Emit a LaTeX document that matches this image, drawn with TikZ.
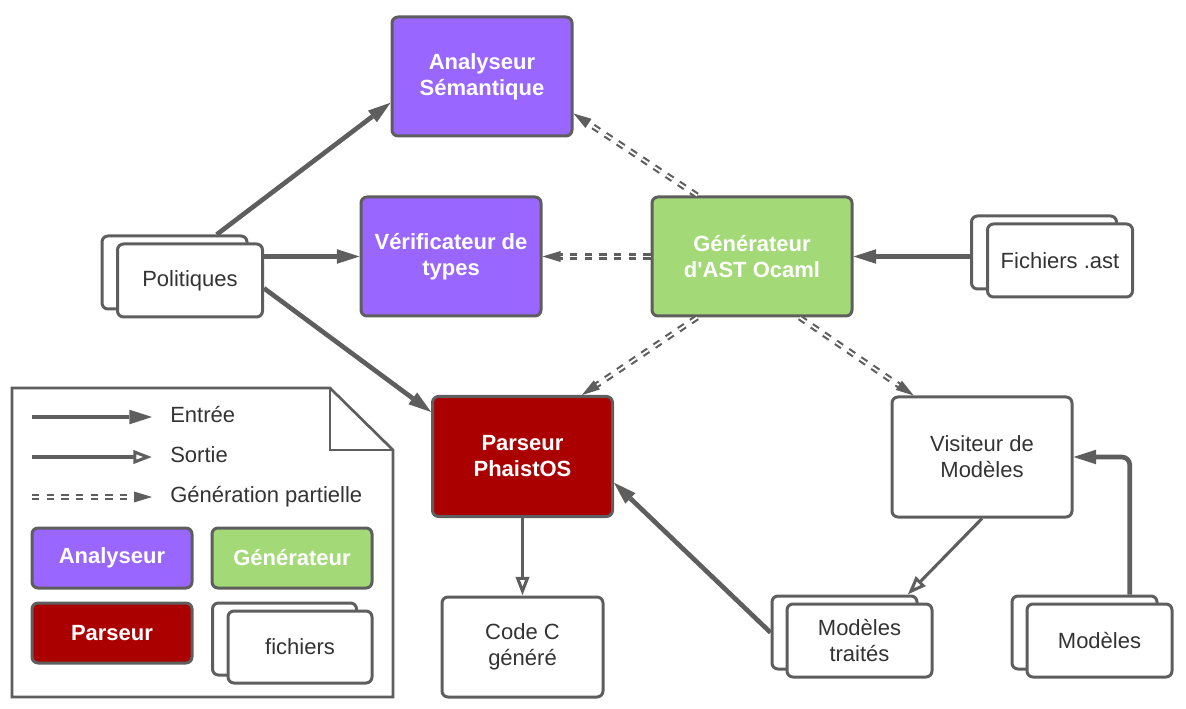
\documentclass[tikz,border=0pt]{standalone}
\usepackage{fontspec}
\setmainfont{Liberation Sans}
\usetikzlibrary{arrows.meta}
\definecolor{lineg}{HTML}{5E5E5E}
\definecolor{purp}{HTML}{9966FF}
\definecolor{grn}{HTML}{A3D977}
\definecolor{dred}{HTML}{AA0000}
\definecolor{txt}{HTML}{333333}
\newcommand\dfont{\fontsize{16.5}{19.5}\selectfont}
\begin{document}
\begin{tikzpicture}[x=0.75pt,y=-0.75pt,
 box/.style={draw=lineg, line width=2.25pt, rounded corners=4.5pt, align=center, inner sep=0pt, text=txt, font=\dfont, fill=white},
 abox/.style={box, fill=purp, text=white, font=\dfont\bfseries},
 gbox/.style={box, fill=grn, text=white, font=\dfont\bfseries},
 pbox/.style={box, fill=dred, text=white, font=\dfont\bfseries},
 big/.style={minimum width=135pt, minimum height=89.25pt},
 filebox/.style={box, minimum width=108.75pt, minimum height=54.75pt},
 legbox/.style={minimum width=120pt, minimum height=45pt},
 ltext/.style={anchor=base west, inner sep=0pt, text=txt, font=\dfont},
 entree/.style={draw=lineg, line width=3.5pt, -{Triangle[length=17pt,width=11pt,line width=0pt]}},
 sortie/.style={draw=lineg, line width=2.3pt, -{Triangle[open,length=14pt,width=10pt,fill=white]}},
 partiel/.style={draw=lineg, line width=1.5pt, -{Triangle[length=13.5pt,width=8.25pt,line width=0pt]},
   dash pattern=on 0pt off 3000pt,
   preaction={draw=lineg, -, double=white, line width=1.6pt, double distance=1.4pt,
     dash pattern=on 5.5pt off 5.5pt, shorten >=12pt}}
]
\useasboundingbox (0,0) rectangle (1186,709);

% main boxes
\node[abox, big] (sem) at (482,76.5) {Analyseur\\Sémantique};
\node[abox, big] (ver) at (451,256.5) {Vérificateur de\\types};
\node[gbox, big, minimum width=150pt] (gen) at (752,256.5) {Générateur\\d\textquotesingle AST Ocaml};
\node[pbox, big, minimum height=90pt] (par) at (522.5,456.5) {Parseur\\PhaistOS};
\node[box, minimum width=120.75pt, minimum height=75pt] (code) at (522.5,647) {Code C\\généré};
\node[box, big, minimum height=90pt] (vis) at (982,457) {Visiteur de\\Modèles};

% file stacks
\node[filebox] (polB) at (174.5,272.5) {};
\node[filebox] (pol) at (190,280.5) {Politiques};
\node[filebox] (astB) at (1044,252.5) {};
\node[filebox] (ast) at (1060,260.5) {Fichiers .ast};
\node[filebox] (modtB) at (844.5,632.5) {};
\node[filebox] (modt) at (859.5,640.5) {Modèles\\traités};
\node[filebox] (modB) at (1084.5,632.5) {};
\node[filebox] (mod) at (1099.5,640.5) {Modèles};

% connectors
\draw[entree] (polB.42) -- (sem.196);
\draw[entree] (pol.east |- ver.west) -- (ver.west);
\draw[entree] (pol.-6) -- (par.154);
\draw[partiel] (gen.132) -- (sem.-22);
\draw[partiel] (gen.west) -- (ver.east);
\draw[partiel] (gen.228) -- (par.46);
\draw[partiel] (gen.-52) -- (vis.138);
\draw[entree] (astB.west |- gen.east) -- (gen.east);
\draw[sortie] (par.south) -- (code.north);
\draw[entree] (modtB.west) -- (par.-16);
\draw[sortie] (vis.south) -- (modtB.31);
\draw[entree, rounded corners=6pt] (modB.40) |- (vis.east);

% legend
\draw[lineg, line width=2pt, line join=miter] (12,388) -- (330,388) -- (393,450) -- (393,697) -- (12,697) -- cycle;
\draw[lineg, line width=2pt] (330,388) -- (330,450) -- (393,450);
\coordinate (l1a) at (32,417); \coordinate (l1b) at (152,417);
\coordinate (l2a) at (32,457); \coordinate (l2b) at (152,457);
\coordinate (l3a) at (32,497); \coordinate (l3b) at (152,497);
\draw[entree] (l1a) -- (l1b);
\draw[sortie] (l2a) -- (l2b);
\draw[partiel] (l3a) -- (l3b);
\node[ltext] (t1) at (170,422) {Entrée};
\node[ltext] (t2) at (170,462) {Sortie};
\node[ltext] (t3) at (170,502) {Génération partielle};
\node[abox, legbox] (la) at (112,558) {Analyseur};
\node[gbox, legbox] (lg) at (292,558) {Générateur};
\node[pbox, legbox] (lp) at (112,633) {Parseur};
\node[box, minimum width=108pt, minimum height=54pt] (lfB) at (284.5,639) {};
\node[box, minimum width=108pt, minimum height=54pt] (lf) at (300,647) {fichiers};
\end{tikzpicture}
\end{document}
